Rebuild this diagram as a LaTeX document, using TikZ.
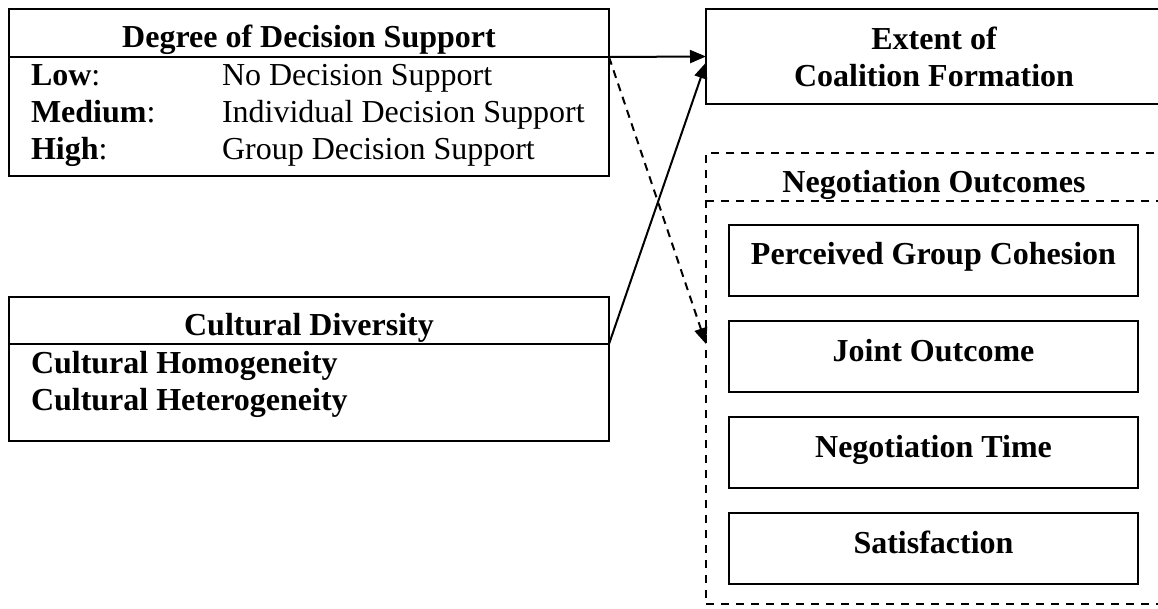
\documentclass[tikz,border=0pt]{standalone}
\usepackage{fontspec}
\setmainfont{Liberation Serif}
\usetikzlibrary{arrows.meta}
\begin{document}
\begin{tikzpicture}[x=1pt,y=-1pt,
  every node/.style={font=\fontsize{32}{37}\selectfont, inner sep=0pt, outer sep=0pt},
  frame/.style={draw, line width=2.4pt, anchor=north west},
  dashframe/.style={draw, line width=2.2pt, dash pattern=on 8pt off 7pt, anchor=north west},
  head/.style={anchor=north west},
  divider/.style={line width=2.2pt},
  ddivider/.style={line width=2.2pt, dash pattern=on 8pt off 7pt},
  outbox/.style={frame, minimum width=409pt, minimum height=71pt,
    text height=22pt, text depth=13pt, font=\fontsize{32}{37}\selectfont\bfseries},
  arr/.style={line width=2pt, -{Triangle[length=16pt,width=13pt]}},
  darr/.style={arr, dash pattern=on 8pt off 6pt},
  lbl/.style={anchor=base west},
  ttl/.style={anchor=base, font=\fontsize{32}{37}\selectfont\bfseries}]
\useasboundingbox (0,0) rectangle (1158,609);

% Degree of decision support
\node[frame, minimum width=600pt, minimum height=167pt] (dds) at (9,9) {};
\node[head, minimum width=600pt, minimum height=48pt] (ddsHead) at (9,9) {};
\draw[divider] (ddsHead.south west) -- (ddsHead.south east);
\node[ttl] (ddsTitle) at (309,48) {Degree of Decision Support};
\node[lbl] (low) at (31,86) {\textbf{Low}:};
\node[lbl] (lowV) at (222,86) {No Decision Support};
\node[lbl] (med) at (31,123) {\textbf{Medium}:};
\node[lbl] (medV) at (222,123) {Individual Decision Support};
\node[lbl] (high) at (31,160) {\textbf{High}:};
\node[lbl] (highV) at (222,160) {Group Decision Support};

% Cultural diversity
\node[frame, minimum width=600pt, minimum height=144pt] (cd) at (9,297) {};
\node[head, minimum width=600pt, minimum height=47pt] (cdHead) at (9,297) {};
\draw[divider] (cdHead.south west) -- (cdHead.south east);
\node[ttl] (cdTitle) at (309,335) {Cultural Diversity};
\node[lbl] (homo) at (31,373) {\textbf{Cultural Homogeneity}};
\node[lbl] (hetero) at (31,410) {\textbf{Cultural Heterogeneity}};

% Extent of coalition formation
\node[frame, minimum width=456pt, minimum height=95pt, align=center,
  font=\fontsize{32}{37}\selectfont\bfseries] (ext) at (706,9) {Extent of\\Coalition Formation};

% Negotiation outcomes
\node[dashframe, minimum width=456pt, minimum height=451pt] (outc) at (706,153) {};
\node[head, minimum width=456pt, minimum height=48pt] (outcHead) at (706,153) {};
\draw[ddivider] (outcHead.south west) -- (outcHead.south east);
\node[ttl] (outcTitle) at (934,193) {Negotiation Outcomes};
\node[outbox] (pgc) at (729,225) {Perceived Group Cohesion};
\node[outbox] (jo) at (729,321) {Joint Outcome};
\node[outbox] (nt) at (729,417) {Negotiation Time};
\node[outbox] (sat) at (729,513) {Satisfaction};

% Effects
\draw[arr] (ddsHead.south east) -- (ext.west);
\draw[arr] (cdHead.south east) -- ([yshift=-6pt]ext.west);
\draw[darr] (ddsHead.south east) -- (cdHead.south east -| outc.west);
\end{tikzpicture}
\end{document}
